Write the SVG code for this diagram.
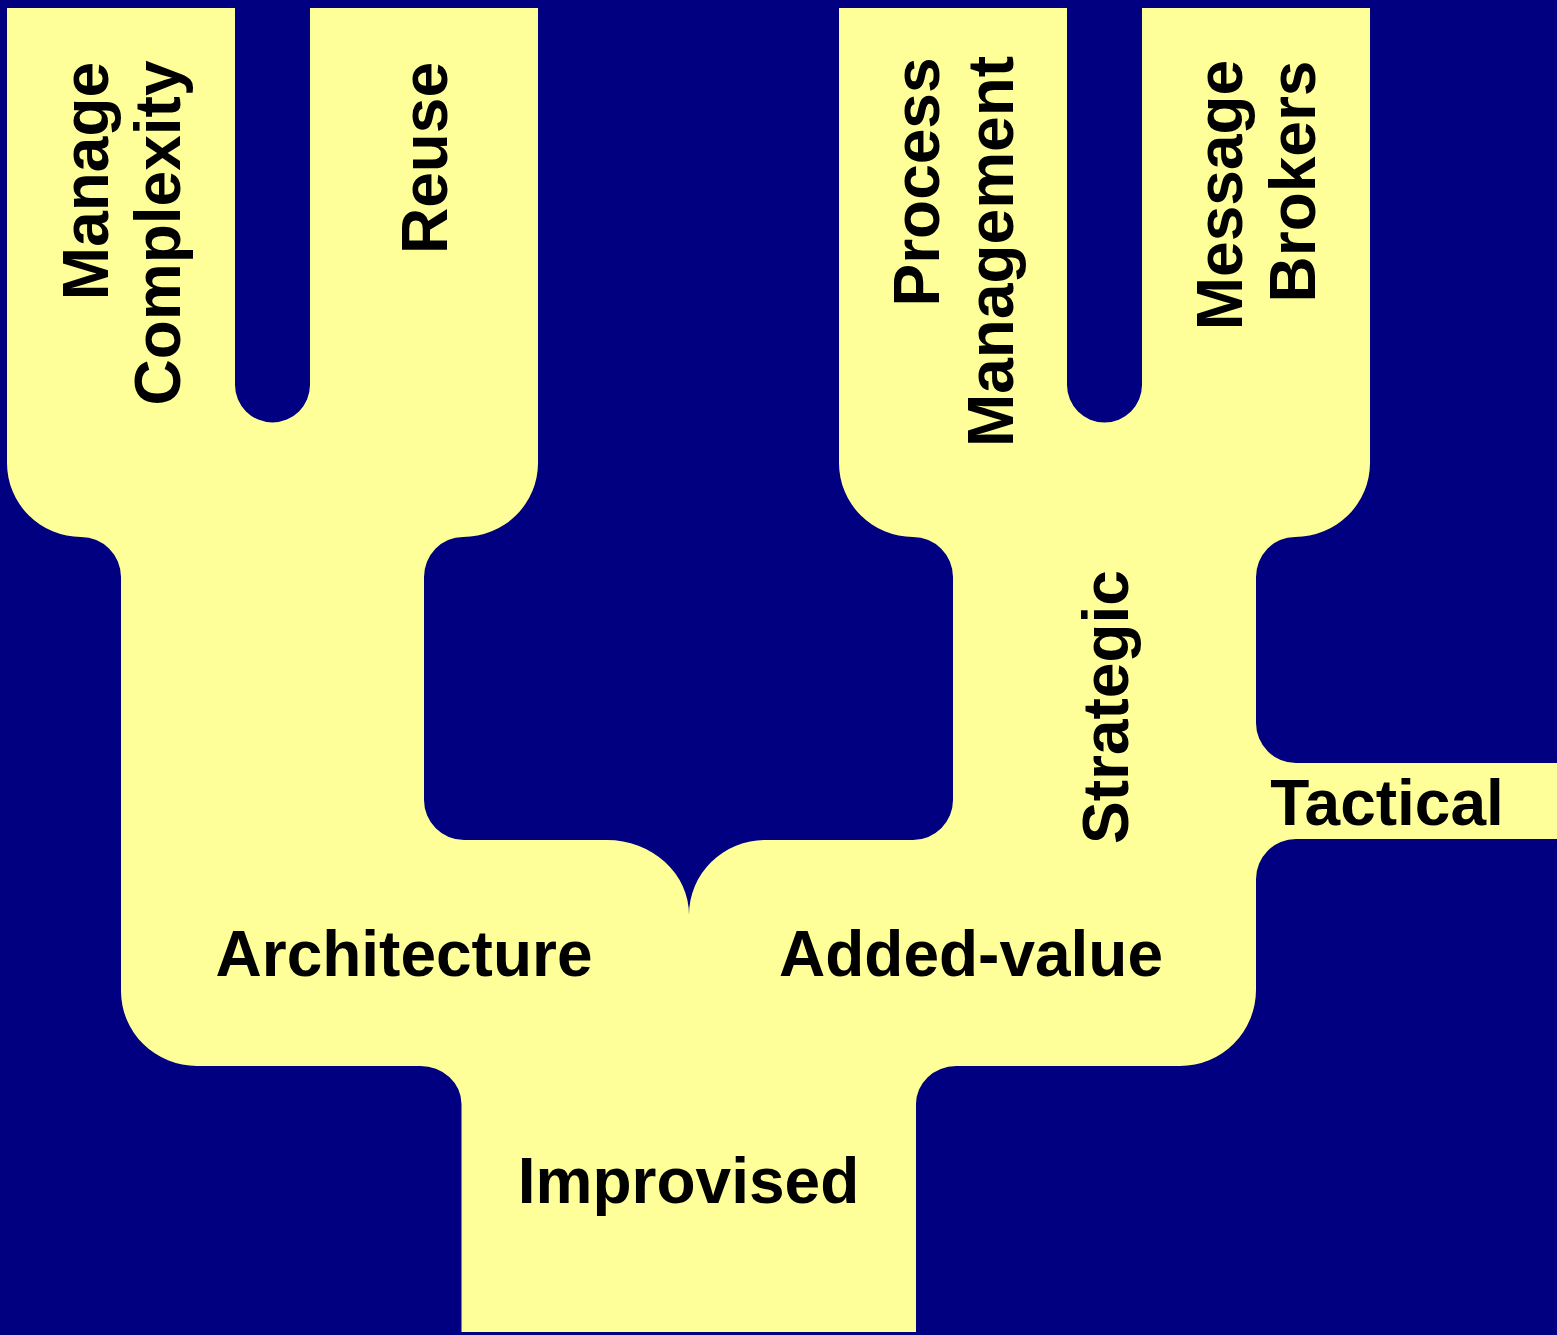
<svg xmlns="http://www.w3.org/2000/svg" width="1557" height="1335" viewBox="0 0 1557 1335">
<style>
.lbl{font-family:"Liberation Sans",Arial,sans-serif;font-weight:bold;font-size:64px;fill:#000000;text-anchor:middle}
</style>
<rect id="background" x="0" y="0" width="1557" height="1335" fill="#000080"/>
<g id="tree">
<path fill="#FFFF99" d="M 7,8 H 235 V 385 A 37.5 37.5 0 0 0 310 385 V 8 H 538 V 463 A 75 74 0 0 1 463 537 A 39 40 0 0 0 424 577 V 800 A 40 40 0 0 0 464 840 H 607 A 82 75 0 0 1 689 915 A 76 75 0 0 1 765 840 H 913 A 40 40 0 0 0 953 800 V 577 A 40 40 0 0 0 913 537 A 74 74 0 0 1 839 463 V 8 H 1067 V 385 A 37.5 37.5 0 0 0 1142 385 V 8 H 1370 V 463 A 75 74 0 0 1 1295 537 A 39 40 0 0 0 1256 577 V 723 A 40 40 0 0 0 1296 763 H 1557 V 839 H 1296 A 40 40 0 0 0 1256 879 V 990 A 76 76 0 0 1 1180 1066 H 956 A 40 38 0 0 0 916 1104 V 1332 H 461.5 V 1104 A 41 38 0 0 0 420 1066 H 197 A 76 75 0 0 1 121 991 V 577 A 40 40 0 0 0 81 537 A 74 74 0 0 1 7 463 Z"/>
</g>
<g id="n-manage-complexity">
<text class="lbl" transform="translate(108,181) rotate(-90)">Manage</text>
<text class="lbl" transform="translate(180,233) rotate(-90)">Complexity</text>
</g>
<g id="n-reuse">
<text class="lbl" transform="translate(446.5,158) rotate(-90)">Reuse</text>
</g>
<g id="n-process-management">
<text class="lbl" transform="translate(939,182) rotate(-90)">Process</text>
<text class="lbl" transform="translate(1013,251.5) rotate(-90)">Management</text>
</g>
<g id="n-message-brokers">
<text class="lbl" transform="translate(1242,195) rotate(-90)">Message</text>
<text class="lbl" transform="translate(1315,181.5) rotate(-90)">Brokers</text>
</g>
<g id="n-strategic">
<text class="lbl" transform="translate(1128,707) rotate(-90)">Strategic</text>
</g>
<g id="n-tactical">
<text class="lbl" x="1387" y="825">Tactical</text>
</g>
<g id="n-architecture">
<text class="lbl" x="404" y="976">Architecture</text>
</g>
<g id="n-added-value">
<text class="lbl" x="971" y="976">Added-value</text>
</g>
<g id="n-improvised">
<text class="lbl" x="688.5" y="1203">Improvised</text>
</g>
<g id="connectors"></g>
</svg>
